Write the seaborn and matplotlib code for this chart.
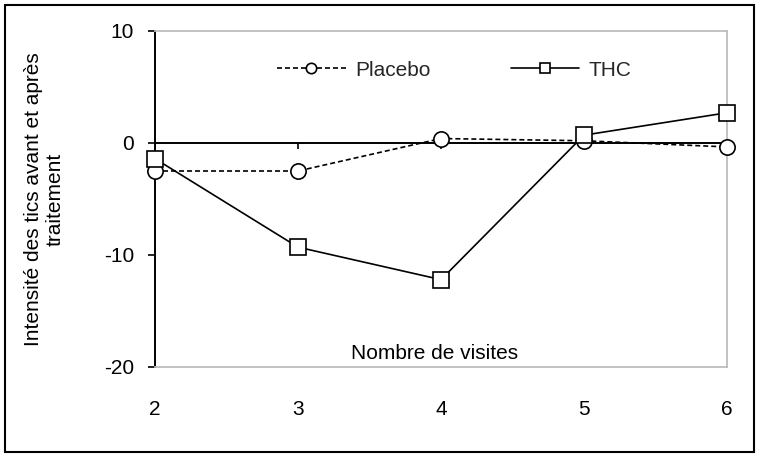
import matplotlib
matplotlib.use("Agg")
import matplotlib.pyplot as plt
from matplotlib.patches import Rectangle
from matplotlib.markers import TICKDOWN
import seaborn as sns
import pandas as pd

# Visit numbers and change in tic intensity (after minus before treatment)
visits = [2, 3, 4, 5, 6]
placebo = [-2.5, -2.5, 0.4, 0.2, -0.35]
thc = [-1.4, -9.3, -12.2, 0.7, 2.7]
y_ticks = [-20, -10, 0, 10]

sns.set_theme(style="white")
plt.rcParams["font.family"] = ["Liberation Sans", "DejaVu Sans"]
plt.rcParams["font.size"] = 15
plt.rcParams["axes.unicode_minus"] = False

W, H = 759, 454
fig = plt.figure(figsize=(W / 100, H / 100), dpi=100)
ax = fig.add_axes([155 / W, 1 - 367 / H, (727 - 155) / W, (367 - 31) / H])

# category axis crossing at zero, with short tick marks below it
ax.axhline(0, color="black", linewidth=1.4, zorder=2)
ax.plot(visits, [0] * len(visits), linestyle="none", marker=TICKDOWN,
        markersize=4, markeredgewidth=1.2, color="black", zorder=2)

df = pd.DataFrame({"visite": visits, "Placebo": placebo, "THC": thc})

sns.lineplot(data=df, x="visite", y="Placebo", ax=ax, color="black",
             linewidth=1.2, linestyle=(0, (3, 1.8)), marker="o", markersize=11,
             markerfacecolor="white", markeredgecolor="black", markeredgewidth=1.2,
             label="Placebo", clip_on=False, zorder=3)
sns.lineplot(data=df, x="visite", y="THC", ax=ax, color="black",
             linewidth=1.2, marker="s", markersize=11,
             markerfacecolor="white", markeredgecolor="black", markeredgewidth=1.2,
             label="THC", clip_on=False, zorder=4)

ax.set_xlim(2, 6)
ax.set_ylim(-20, 10)
ax.set_yticks(y_ticks)
ax.set_xticks(visits)
ax.set_xticklabels([str(v) for v in visits])

# frame of the plot area
for side in ["top", "right", "bottom"]:
    ax.spines[side].set_color("#bdbdbd")
    ax.spines[side].set_linewidth(1.3)
ax.spines["left"].set_color("black")
ax.spines["left"].set_linewidth(1.4)

ax.tick_params(axis="x", length=0, pad=24, labelsize=15, colors="black")
ax.tick_params(axis="y", left=True, direction="out", length=5, width=1.2,
               pad=10, labelsize=15, colors="black")

ax.set_ylabel("Intensité des tics avant et après\ntraitement", fontsize=15,
              linespacing=1.2, color="black")
ax.yaxis.set_label_coords(-0.158, 0.5)
ax.set_xlabel("Nombre de visites", fontsize=15, color="black")
ax.xaxis.set_label_coords(0.489, 0.039)
ax.xaxis.label.set_va("center")

leg = ax.legend(loc="center left", bbox_to_anchor=(277 / W, 1 - 70 / H),
                bbox_transform=fig.transFigure, ncol=2, frameon=False,
                fontsize=15, handlelength=3.3, handletextpad=0.45,
                columnspacing=3.85, borderpad=0, borderaxespad=0, markerscale=0.68)

fig.patches.append(Rectangle((5 / W, 2 / H), (754 - 5) / W, (449 - 2) / H,
                             transform=fig.transFigure, fill=False,
                             edgecolor="black", linewidth=1.5))

fig.savefig("out.png", dpi=100)
